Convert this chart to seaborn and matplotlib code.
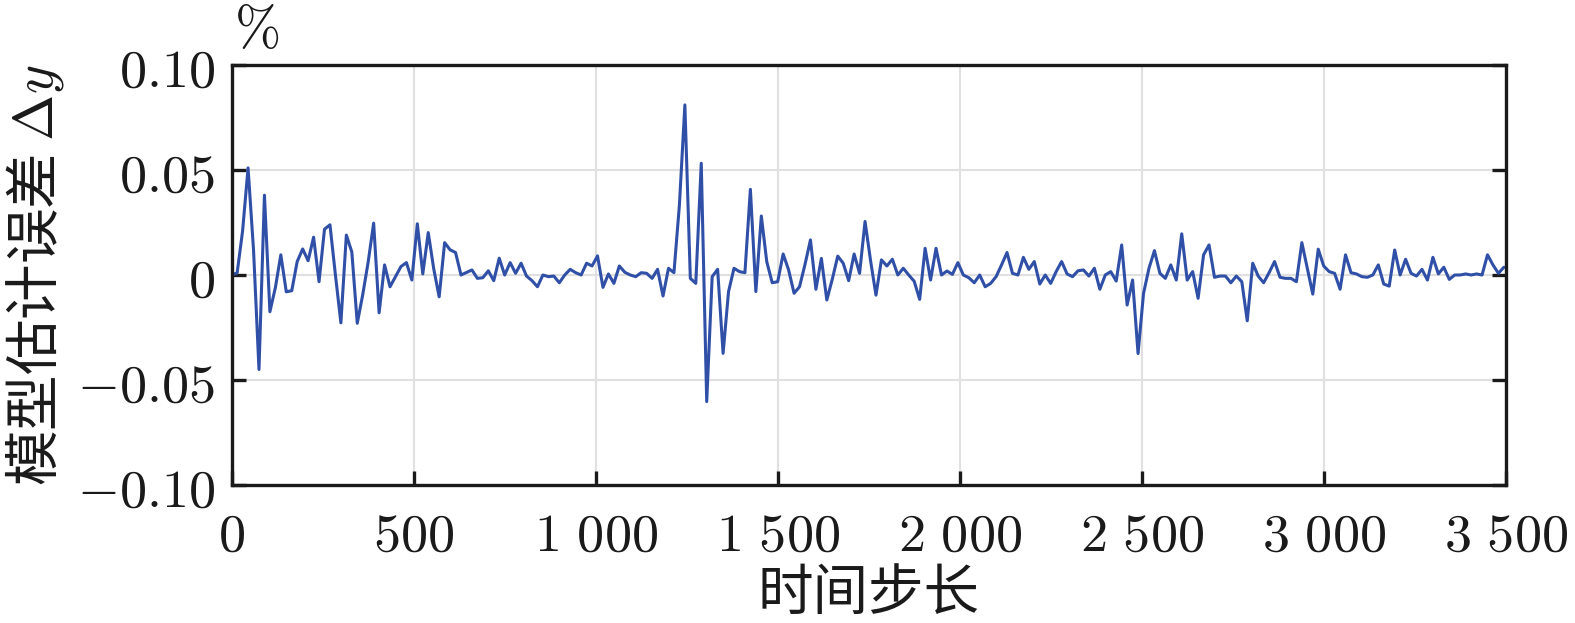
import numpy as np
import pandas as pd
import seaborn as sns
import matplotlib.pyplot as plt

# model estimation error, one value every 15 time steps
model_error = [
    0.0, 0.001, 0.021, 0.051, 0.012, -0.045, 0.038, -0.0175, -0.006, 0.0096,
    -0.008, -0.0075, 0.0064, 0.0124, 0.0068, 0.018, -0.0032, 0.0218, 0.0239, 0.0,
    -0.0228, 0.019, 0.011, -0.023, -0.0094, 0.0062, 0.0247, -0.018, 0.0048, -0.0056,
    -0.0008, 0.004, 0.0059, -0.0024, 0.0244, 0.0005, 0.0202, 0.003, -0.0104, 0.0154,
    0.012, 0.0107, 0.0, 0.0012, 0.0024, -0.0016, -0.0013, 0.002, -0.0027, 0.008,
    0.0, 0.0059, 0.0008, 0.0056, -0.0005, -0.0027, -0.0056, 0.0, -0.0008, -0.0005,
    -0.0037, 0.0, 0.0027, 0.0011, 0.0, 0.0056, 0.0043, 0.0091, -0.0059, 0.0005,
    -0.004, 0.0043, 0.0013, 0.0, -0.0008, 0.0011, 0.0008, -0.0016, 0.0027, -0.01,
    0.0032, 0.0011, 0.0333, 0.081, -0.0016, -0.004, 0.0532, -0.0603, -0.0008, 0.0027,
    -0.0373, -0.0079, 0.0032, 0.0016, 0.0011, 0.0408, -0.0079, 0.0281, 0.0063, -0.0037,
    -0.0032, 0.01, 0.0024, -0.0087, -0.0056, 0.005, 0.0167, -0.0068, 0.0079, -0.0119,
    -0.002, 0.009, 0.0056, -0.0027, 0.01, 0.0008, 0.0255, 0.007, -0.0096, 0.0072,
    0.0043, 0.0075, 0.0, 0.0032, 0.0, -0.003, -0.0116, 0.0127, -0.0024, 0.0127,
    0.0, 0.0019, 0.0003, 0.0059, 0.0, -0.0013, -0.0037, 0.0, -0.0056, -0.004,
    -0.0008, 0.0048, 0.0107, 0.0008, 0.0, 0.0084, 0.0027, 0.0064, -0.0043, 0.0,
    -0.004, 0.0016, 0.0064, 0.0005, -0.0008, 0.002, 0.0024, -0.0005, 0.0032, -0.0068,
    0.0, 0.0016, -0.0029, 0.0143, -0.0143, -0.0024, -0.0374, -0.0088, 0.0032, 0.0116,
    0.0008, -0.0016, 0.0048, -0.0024, 0.0196, -0.0024, 0.0016, -0.0111, 0.0096, 0.0143,
    -0.0011, -0.0005, -0.0005, -0.0037, -0.0005, -0.0032, -0.0218, 0.0056, -0.0005, -0.0037,
    0.0011, 0.0064, -0.0011, -0.0016, -0.0016, -0.0032, 0.0154, 0.0032, -0.0091, 0.0123,
    0.0043, 0.0016, 0.0008, -0.0068, 0.0096, 0.0011, 0.0005, -0.0008, -0.0011, 0.0,
    0.0048, -0.0043, -0.0053, 0.0119, 0.0, 0.0075, 0.0008, -0.0005, 0.0027, -0.0024,
    0.0084, 0.0005, 0.0037, -0.0021, 0.0, 0.0, 0.0005, 0.0, 0.0005, 0.0,
    0.0096, 0.0048, 0.0008, 0.0037,
]
sample_interval = 15
time_step = np.arange(len(model_error)) * sample_interval

x_ticks = [0, 500, 1000, 1500, 2000, 2500, 3000, 3500]
x_tick_labels = ['0', '500', r'1\ 000', r'1\ 500', r'2\ 000', r'2\ 500', r'3\ 000', r'3\ 500']
y_ticks = [-0.10, -0.05, 0, 0.05, 0.10]
y_tick_labels = ['-0.10', '-0.05', '0', '0.05', '0.10']

df = pd.DataFrame({'step': time_step, 'err': model_error})

sns.set_theme(style='white')
plt.rcParams['font.family'] = ['Noto Sans CJK SC', 'DejaVu Sans']
plt.rcParams['mathtext.fontset'] = 'cm'
plt.rcParams['axes.unicode_minus'] = False

fig = plt.figure(figsize=(15.75, 6.23), dpi=100)
ax = fig.add_axes([0.1471, 0.2215, 0.8089, 0.6742])

sns.lineplot(data=df, x='step', y='err', ax=ax, color='#3050a8', linewidth=2.2)

ax.set_xlim(0, 3500)
ax.set_ylim(-0.10, 0.10)
ax.set_xticks(x_ticks)
ax.set_xticklabels(['$' + t + '$' for t in x_tick_labels])
ax.set_yticks(y_ticks)
ax.set_yticklabels(['$' + t + '$' for t in y_tick_labels])

ax.grid(True, color='#e0e0e0', linewidth=1.5)
ax.set_axisbelow(True)
for side in ['left', 'right', 'top', 'bottom']:
    ax.spines[side].set_visible(True)
    ax.spines[side].set_color('#1a1a1a')
    ax.spines[side].set_linewidth(2.4)

ax.tick_params(axis='both', direction='in', length=10, width=2.4, color='#1a1a1a',
               labelsize=39, labelcolor='#1a1a1a')
ax.tick_params(axis='y', left=True, right=True, pad=12)
ax.tick_params(axis='x', bottom=True, top=False, pad=16)

ax.set_xlabel('时间步长', fontsize=40, color='#1a1a1a', labelpad=2)
ax.set_ylabel(r'模型估计误差 $\Delta y$', fontsize=40, color='#1a1a1a', labelpad=8)
ax.text(0.002, 1.015, r'$\%$', transform=ax.transAxes, fontsize=40,
        ha='left', va='bottom', color='#1a1a1a')

fig.savefig('out.png', dpi=100, facecolor='white')
